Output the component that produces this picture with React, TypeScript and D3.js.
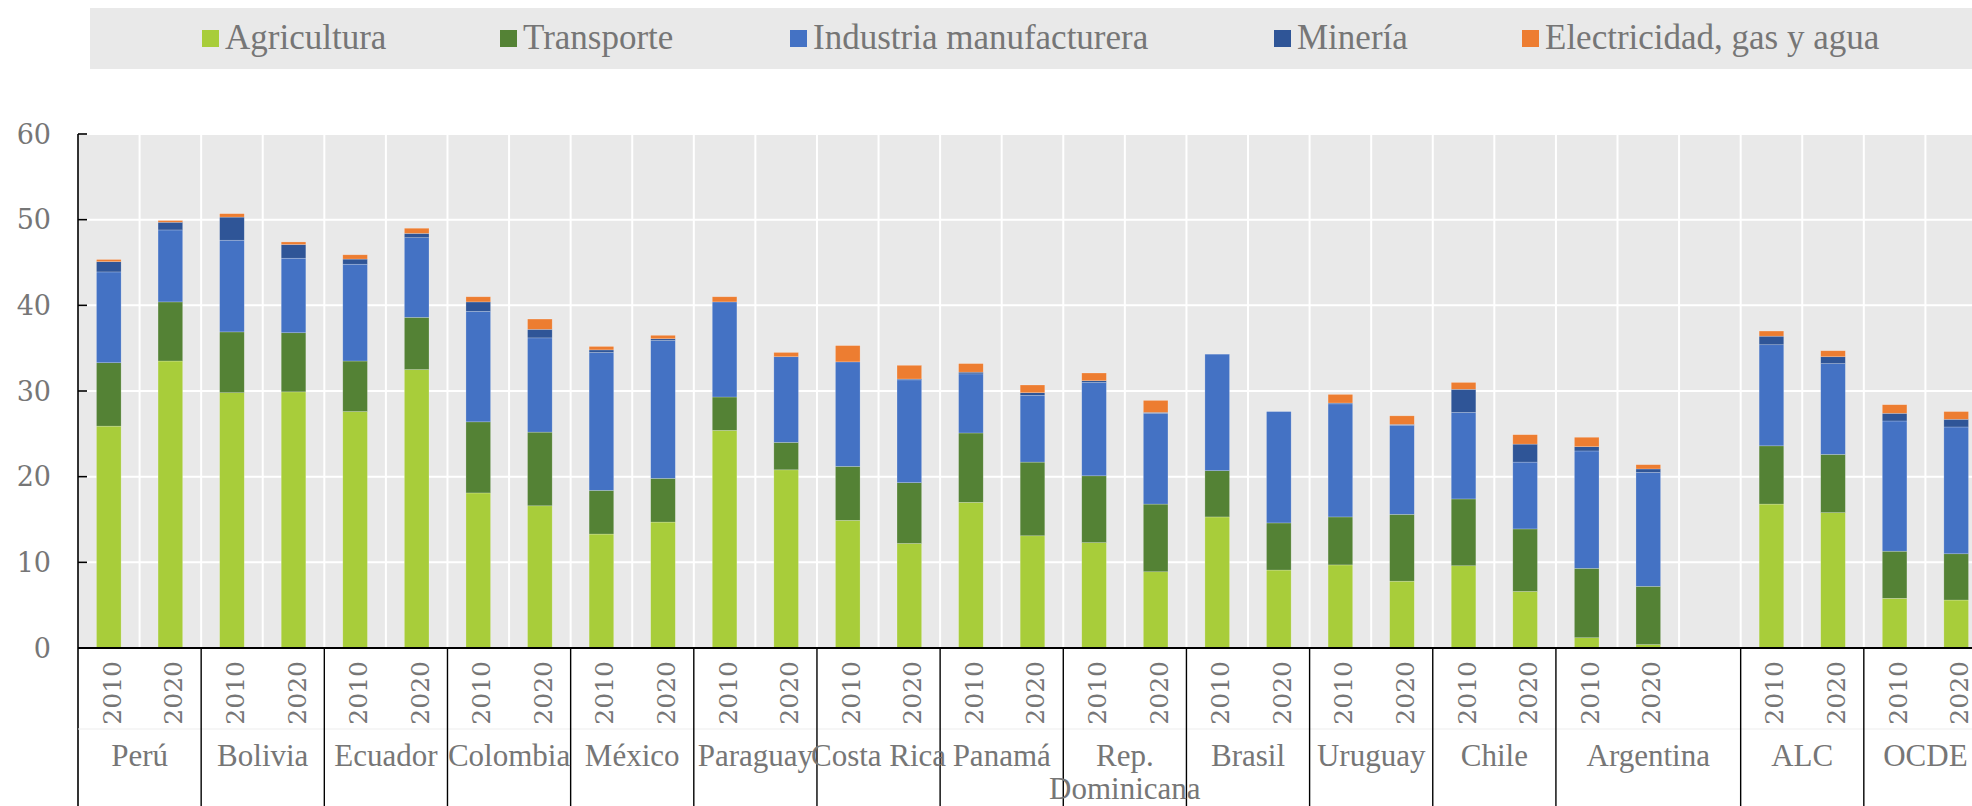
import React from 'react';
import * as d3 from 'd3';

// ---- Data ----
const countries = [
  'Perú', 'Bolivia', 'Ecuador', 'Colombia', 'México', 'Paraguay', 'Costa Rica',
  'Panamá', 'Rep. Dominicana', 'Brasil', 'Uruguay', 'Chile', 'Argentina', 'ALC', 'OCDE',
];
const years = ['2010', '2020'];
const seriesNames = ['Agricultura', 'Transporte', 'Industria manufacturera', 'Minería', 'Electricidad, gas y agua'];
const seriesColors = ['#A8CD3A', '#548235', '#4472C4', '#2F5597', '#ED7D31'];

// two values per country: 2010, 2020
const agricultura = [25.9, 33.5, 29.8, 29.9, 27.6, 32.5, 18.1, 16.6, 13.3, 14.7, 25.4, 20.8, 14.9, 12.2, 17.0, 13.1, 12.3, 8.9, 15.3, 9.1, 9.7, 7.8, 9.6, 6.6, 1.2, 0.4, 16.8, 15.8, 5.8, 5.6];
const transporte = [7.4, 6.9, 7.1, 6.9, 5.9, 6.1, 8.3, 8.6, 5.1, 5.1, 3.9, 3.2, 6.3, 7.1, 8.1, 8.6, 7.8, 7.9, 5.4, 5.5, 5.6, 7.8, 7.8, 7.3, 8.1, 6.8, 6.8, 6.8, 5.5, 5.4];
const industria = [10.6, 8.4, 10.7, 8.7, 11.3, 9.3, 12.9, 11.0, 16.1, 16.1, 11.1, 10.0, 12.2, 12.0, 6.9, 7.8, 10.9, 10.6, 13.6, 13.0, 13.2, 10.4, 10.1, 7.8, 13.7, 13.3, 11.8, 10.6, 15.2, 14.8];
const mineria = [1.2, 0.9, 2.7, 1.6, 0.6, 0.5, 1.1, 1.0, 0.3, 0.2, 0.0, 0.0, 0.0, 0.1, 0.2, 0.3, 0.2, 0.1, 0.0, 0.0, 0.1, 0.1, 2.7, 2.1, 0.5, 0.4, 1.0, 0.8, 0.9, 0.9];
const electricidad = [0.25, 0.2, 0.4, 0.3, 0.5, 0.6, 0.6, 1.2, 0.4, 0.4, 0.6, 0.5, 1.9, 1.6, 1.0, 0.9, 0.9, 1.4, 0.0, 0.0, 1.0, 1.0, 0.8, 1.1, 1.1, 0.5, 0.6, 0.7, 1.0, 0.9];
const seriesValues = [agricultura, transporte, industria, mineria, electricidad];

const yTicks = [0, 10, 20, 30, 40, 50, 60];
const gapAfter = 'Argentina';

// ---- Layout ----
const W = 1972;
const H = 806;
const plotLeft = 78;
const slotW = 61.58;
const yTop = 134;
const yZero = 648;
const legendSwatchX = [202, 500, 790, 1274, 1522];
const textColor = '#767676';

export default function App() {
  const slots: string[] = [];
  countries.forEach((c) => {
    years.forEach((yr) => slots.push(`${c}|${yr}`));
    if (c === gapAfter) slots.push('__gap__');
  });

  const x = d3
    .scaleBand<string>()
    .domain(slots)
    .range([plotLeft, plotLeft + slots.length * slotW])
    .paddingInner(0)
    .paddingOuter(0);
  const y = d3.scaleLinear().domain([0, 60]).range([yZero, yTop]);
  const plotRight = plotLeft + slots.length * slotW;

  const rows = countries.flatMap((c, i) =>
    years.map((yr, j) => {
      const r: any = { key: `${c}|${yr}`, country: c, year: yr };
      seriesNames.forEach((s, k) => {
        r[s] = seriesValues[k][i * 2 + j];
      });
      return r;
    })
  );
  const stacked = d3.stack<any>().keys(seriesNames)(rows);
  const barW = x.bandwidth() * 0.4;

  const groups = countries.map((c) => {
    const keys = slots.filter((s) => s.startsWith(c + '|'));
    const x0 = x(keys[0])!;
    let x1 = x(keys[keys.length - 1])! + x.bandwidth();
    if (c === gapAfter) x1 += x.bandwidth();
    return { c, x0, x1 };
  });

  const boundaries = d3.range(1, slots.length + 1).map((i) => plotLeft + i * slotW);

  return (
    <div style={{ position: 'fixed', left: 0, top: 0, width: W, height: H, overflow: 'hidden', background: '#fff' }}>
      <svg width={W} height={H} style={{ display: 'block' }}>
        {/* Legend */}
        <rect x={90} y={8} width={W} height={61} fill="#E9E9E9" />
        {seriesNames.map((s, i) => (
          <g key={s}>
            <rect x={legendSwatchX[i]} y={30} width={17} height={17} fill={seriesColors[i]} />
            <text
              x={legendSwatchX[i] + 23}
              y={49}
              fontFamily="'Liberation Serif', serif"
              fontSize={35}
              fill={textColor}
            >
              {s}
            </text>
          </g>
        ))}

        {/* Plot background */}
        <rect x={plotLeft} y={yTop} width={plotRight - plotLeft} height={yZero - yTop} fill="#E9E9E9" />
        {yTicks.filter((t) => t > 0).map((t) => (
          <line key={'h' + t} x1={plotLeft} x2={plotRight} y1={y(t)} y2={y(t)} stroke="#fff" strokeWidth={2} />
        ))}
        {boundaries.map((bx, i) => (
          <line key={'v' + i} x1={bx} x2={bx} y1={yTop} y2={yZero} stroke="#fff" strokeWidth={2} />
        ))}

        {/* Bars */}
        {stacked.map((layer, k) => (
          <g key={layer.key} fill={seriesColors[k]}>
            {layer.map((d, i) => {
              const h = y(d[0]) - y(d[1]);
              if (h <= 0) return null;
              const cx = x(rows[i].key)! + x.bandwidth() / 2;
              return (
                <rect
                  key={i}
                  x={cx - barW / 2}
                  y={y(d[1])}
                  width={barW}
                  height={h}
                  stroke="rgba(255,255,255,0.35)"
                  strokeWidth={0.6}
                />
              );
            })}
          </g>
        ))}

        {/* Y axis */}
        <line x1={plotLeft} x2={plotLeft} y1={yTop} y2={H} stroke="#000" strokeWidth={1.6} />
        {yTicks.map((t) => (
          <g key={'yt' + t}>
            <line x1={plotLeft} x2={plotLeft + 9} y1={y(t)} y2={y(t)} stroke="#000" strokeWidth={1.6} />
            <text
              x={51}
              y={y(t)}
              dy="0.36em"
              textAnchor="end"
              fontFamily="'DejaVu Serif', serif"
              fontSize={27}
              fill={textColor}
            >
              {t}
            </text>
          </g>
        ))}

        {/* X axis */}
        <line x1={plotLeft} x2={W} y1={yZero} y2={yZero} stroke="#000" strokeWidth={1.8} />
        <line x1={plotLeft} x2={W} y1={729} y2={729} stroke="#EDEDED" strokeWidth={1} />
        {groups.map((g) => (
          <line key={'gs' + g.c} x1={g.x1} x2={g.x1} y1={yZero} y2={H} stroke="#000" strokeWidth={1.4} />
        ))}

        {/* Year labels */}
        {rows.map((r) => {
          const cx = x(r.key)! + x.bandwidth() / 2;
          return (
            <text
              key={'yr' + r.key}
              transform={`translate(${cx + 12},661) rotate(-90)`}
              textAnchor="end"
              fontFamily="'DejaVu Serif', serif"
              fontSize={25}
              fill={textColor}
            >
              {r.year}
            </text>
          );
        })}

        {/* Country labels */}
        {groups.map((g) => {
          const cx = (g.x0 + g.x1) / 2;
          const lines = g.c.length > 12 && g.c.includes(' ') ? g.c.split(' ') : [g.c];
          return (
            <text
              key={'cl' + g.c}
              x={cx}
              y={766}
              textAnchor="middle"
              fontFamily="'Liberation Serif', serif"
              fontSize={31}
              fill={textColor}
            >
              {lines.map((ln, i) => (
                <tspan key={i} x={cx} dy={i === 0 ? 0 : 33}>
                  {ln}
                </tspan>
              ))}
            </text>
          );
        })}
      </svg>
    </div>
  );
}
